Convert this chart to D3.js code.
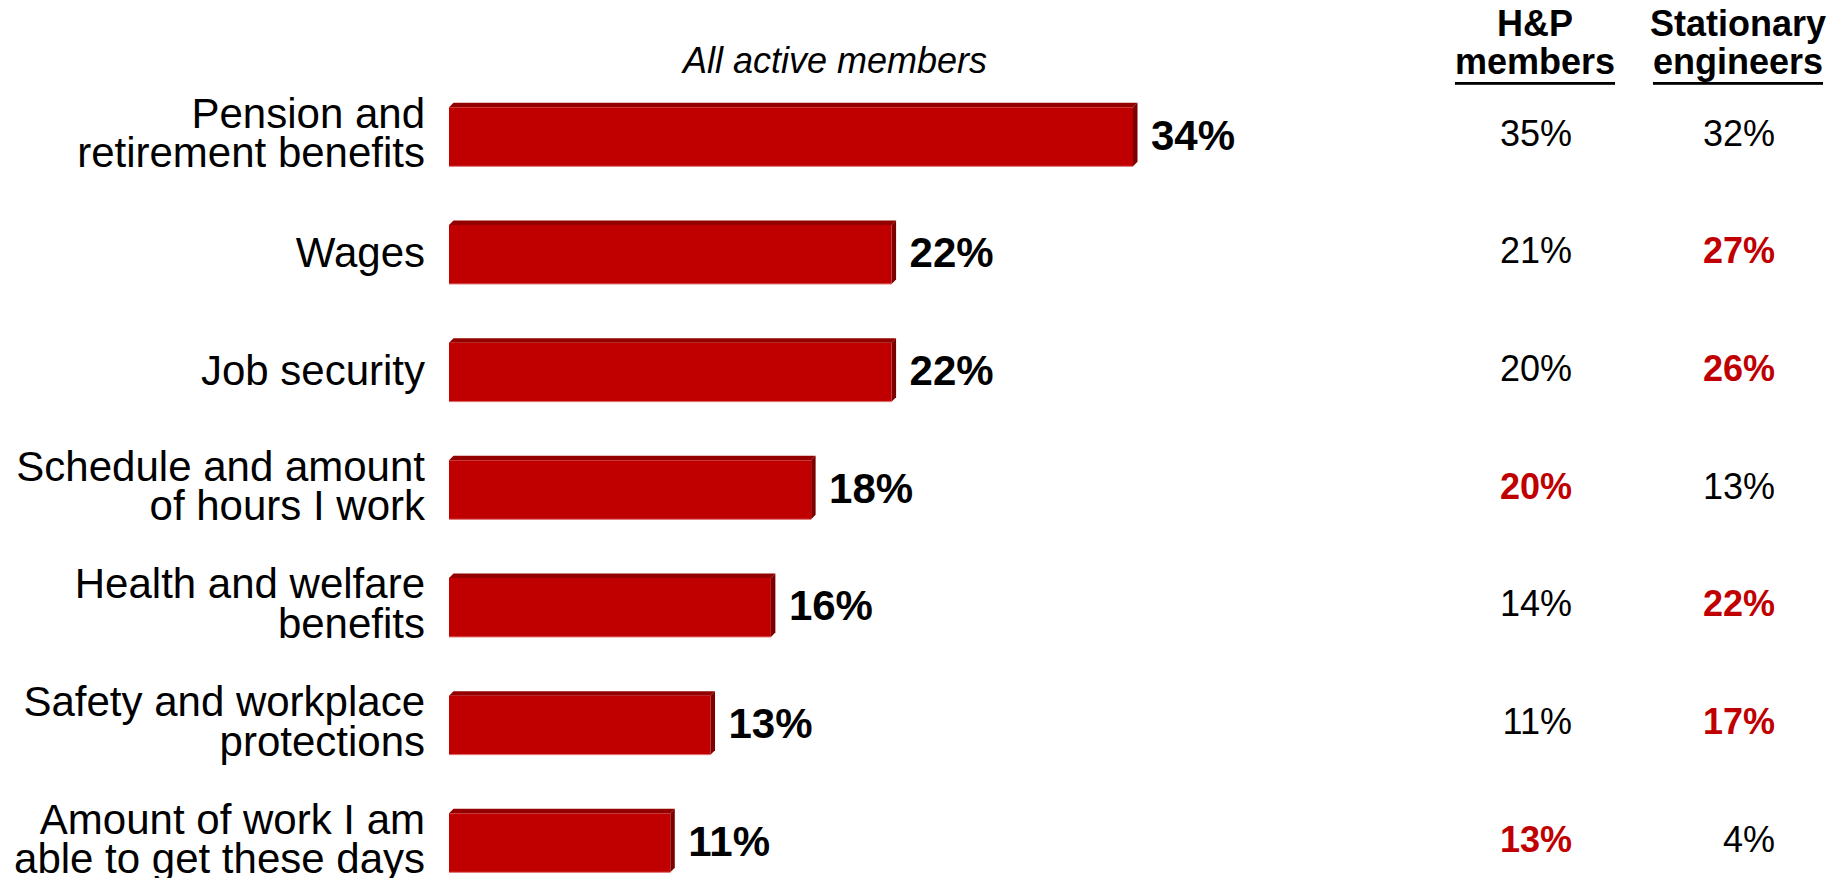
<!DOCTYPE html>
<html>
<head>
<meta charset="utf-8">
<script src="https://cdn.jsdelivr.net/npm/d3@7"></script>
<style>
  html, body { margin: 0; padding: 0; background: #fff; }
  svg { display: block; font-family: "Liberation Sans", Arial, sans-serif; }
</style>
</head>
<body>
<svg id="chart" width="1837" height="878"></svg>
<script>
// ---- data ----
const categories = [
  ["Pension and", "retirement benefits"],
  ["Wages"],
  ["Job security"],
  ["Schedule and amount", "of hours I work"],
  ["Health and welfare", "benefits"],
  ["Safety and workplace", "protections"],
  ["Amount of work I am", "able to get these days"]
];
const allActive = [34, 22, 22, 18, 16, 13, 11];
const hpMembers = [35, 21, 20, 20, 14, 11, 13];
const stationary = [32, 27, 26, 13, 22, 17, 4];
// significant (highlighted in red bold)
const hpHighlight = [false, false, false, true, false, false, true];
const stHighlight = [false, true, true, false, true, true, false];
const subtitle = "All active members";
const colHeaders = [["H&P", "members"], ["Stationary", "engineers"]];

// ---- layout ----
const svg = d3.select("#chart");
const keys = categories.map((c, i) => i);
const y = d3.scaleBand().domain(keys).range([107.3, 872.3]).paddingInner(0.4986).paddingOuter(0);
const x = d3.scaleLinear().domain([0, 34]).range([449, 1133]);
const depth = 4.5;
const FRONT = "#C00000", TOP = "#930000", SIDE = "#7C0000";

// bars
const g = svg.append("g");
allActive.forEach((v, i) => {
  const x0 = x(0), x1 = x(v), y0 = y(i), y1 = y(i) + y.bandwidth();
  g.append("path")
    .attr("d", `M${x0},${y0} L${x0 + depth},${y0 - depth} L${x1 + depth},${y0 - depth} L${x1},${y0} Z`)
    .attr("fill", TOP);
  g.append("path")
    .attr("d", `M${x1},${y0} L${x1 + depth},${y0 - depth} L${x1 + depth},${y1 - depth} L${x1},${y1} Z`)
    .attr("fill", SIDE);
  g.append("rect")
    .attr("x", x0).attr("y", y0)
    .attr("width", x1 - x0).attr("height", y1 - y0)
    .attr("fill", FRONT);
  g.append("line")
    .attr("x1", x0).attr("x2", x1).attr("y1", y1).attr("y2", y1)
    .attr("stroke", "#e07070").attr("stroke-width", 1);
  g.append("text")
    .attr("x", x1 + 18)
    .attr("y", y0 + y.bandwidth() / 2 - depth / 2 + 15)
    .attr("font-size", 42).attr("font-weight", "bold").attr("fill", "#000")
    .text(v + "%");
});

// category labels
categories.forEach((lines, i) => {
  const cy = y(i) + y.bandwidth() / 2 - depth / 2;
  const lh = 39.5;
  const t = svg.append("text")
    .attr("text-anchor", "end")
    .attr("font-size", 42).attr("fill", "#000");
  const firstBase = lines.length > 1 ? cy + 15 - lh / 2 - 2 : cy + 15;
  lines.forEach((ln, j) => {
    t.append("tspan").attr("x", 425).attr("y", firstBase + j * lh).text(ln);
  });
});

// subtitle
svg.append("text")
  .attr("x", 835).attr("y", 72.5)
  .attr("text-anchor", "middle")
  .attr("font-size", 36).attr("font-style", "italic").attr("fill", "#000")
  .text(subtitle);

// column headers
const colCenters = [1535, 1738];
const colRights = [1572, 1775];
colHeaders.forEach((lines, c) => {
  svg.append("text")
    .attr("x", colCenters[c]).attr("y", 36)
    .attr("text-anchor", "middle").attr("font-size", 36).attr("font-weight", "bold")
    .text(lines[0]);
  const t2 = svg.append("text")
    .attr("x", colCenters[c]).attr("y", 74)
    .attr("text-anchor", "middle").attr("font-size", 36).attr("font-weight", "bold")
    .text(lines[1]);
  const w = t2.node().getComputedTextLength();
  svg.append("rect")
    .attr("x", colCenters[c] - w / 2).attr("y", 82)
    .attr("width", w).attr("height", 2.8).attr("fill", "#000");
});

// column values
[[hpMembers, hpHighlight], [stationary, stHighlight]].forEach(([vals, hl], c) => {
  vals.forEach((v, i) => {
    const cy = y(i) + y.bandwidth() / 2 - depth / 2 - 2;
    svg.append("text")
      .attr("x", colRights[c]).attr("y", cy + 13)
      .attr("text-anchor", "end")
      .attr("font-size", 36)
      .attr("font-weight", hl[i] ? "bold" : "normal")
      .attr("fill", hl[i] ? "#C00000" : "#000")
      .text(v + "%");
  });
});
</script>
</body>
</html>
